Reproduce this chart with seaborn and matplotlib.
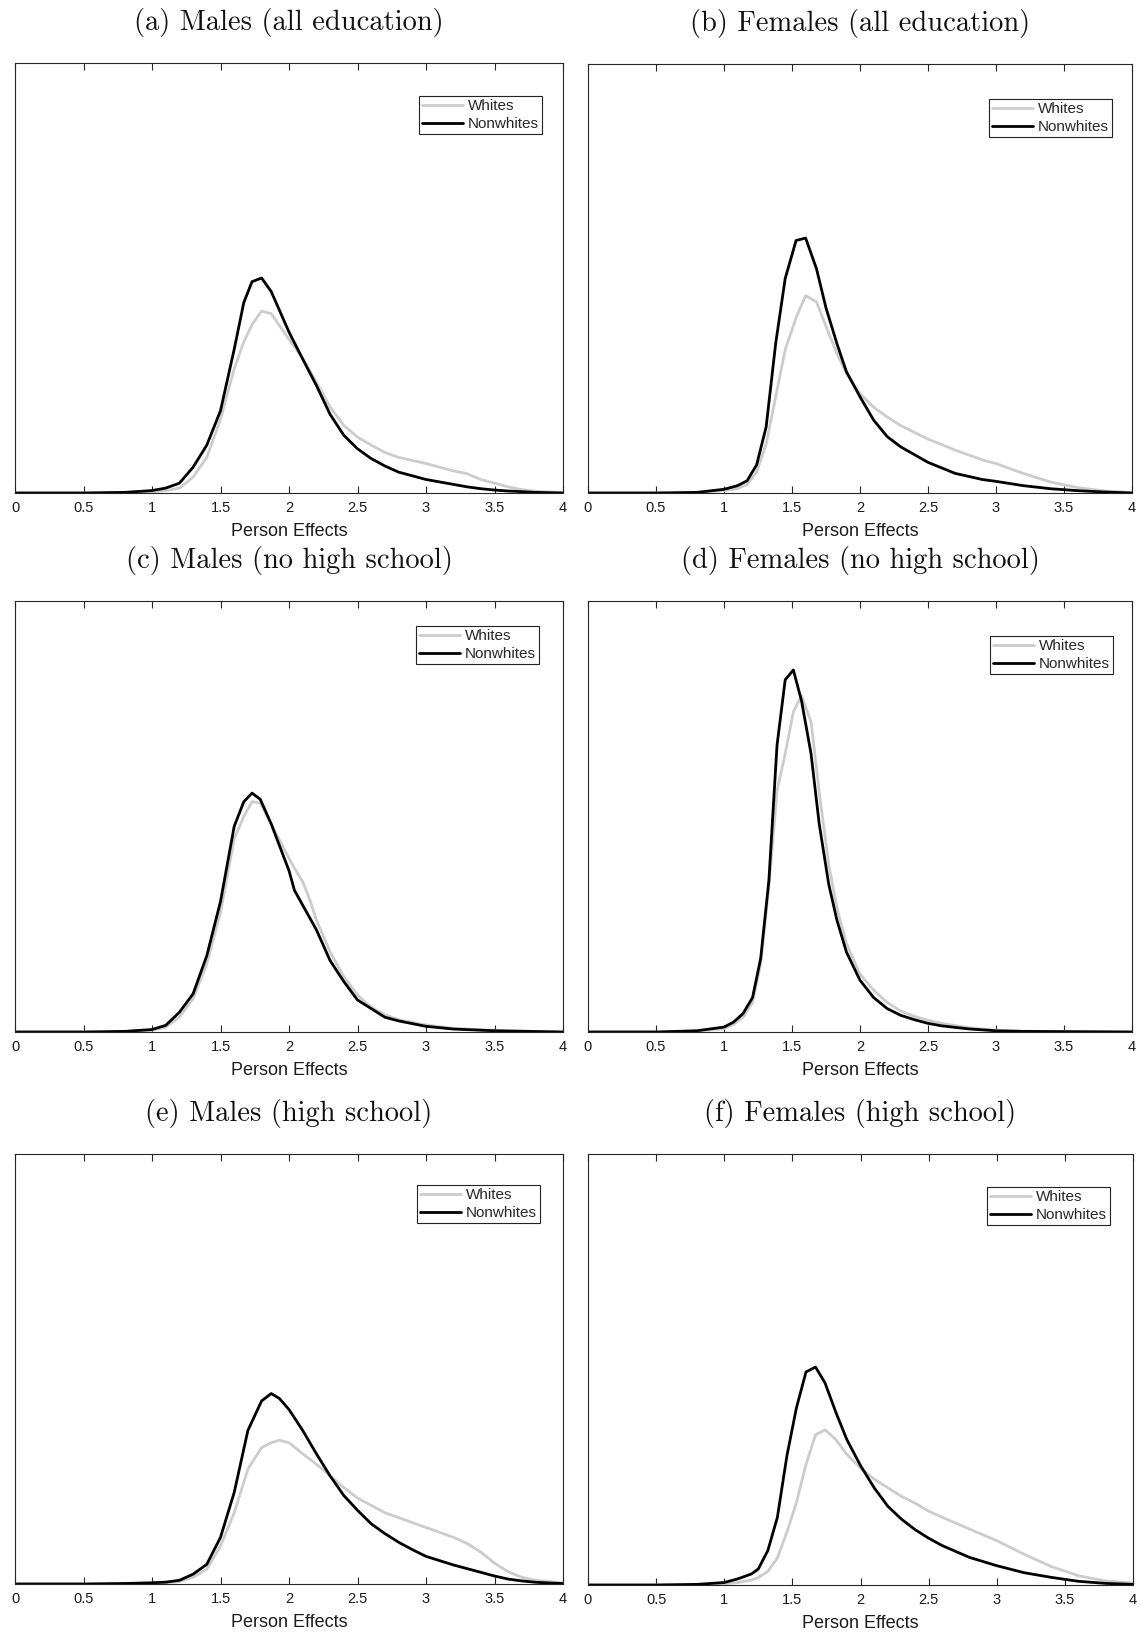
import numpy as np
import pandas as pd
import matplotlib
matplotlib.use("Agg")
import matplotlib.pyplot as plt
import seaborn as sns

# ---------------- data (density of person effects) ----------------
titles = ["(a) Males (all education)", "(b) Females (all education)",
          "(c) Males (no high school)", "(d) Females (no high school)",
          "(e) Males (high school)", "(f) Females (high school)"]
groups = ["Whites", "Nonwhites"]
tick_values = [0, 0.5, 1, 1.5, 2, 2.5, 3, 3.5, 4]
tick_labels = ["0", "0.5", "1", "1.5", "2", "2.5", "3", "3.5", "4"]
x_label = "Person Effects"

a_x = [0, 0.5, 0.8, 1.0, 1.1, 1.2, 1.3, 1.4, 1.5, 1.6, 1.67, 1.73, 1.8, 1.87, 2.0, 2.1,
       2.2, 2.3, 2.4, 2.5, 2.6, 2.7, 2.8, 3.0, 3.2, 3.3, 3.4, 3.5, 3.6, 3.7, 3.8, 4.0]
a_nonwhites = [0, 0, 0.005, 0.02, 0.04, 0.08, 0.21, 0.39, 0.67, 1.17, 1.55, 1.72, 1.75, 1.64,
               1.31, 1.09, 0.875, 0.64, 0.47, 0.36, 0.28, 0.22, 0.17, 0.11, 0.07, 0.05,
               0.035, 0.024, 0.016, 0.011, 0.005, 0.0]
a_whites = [0, 0, 0.003, 0.01, 0.02, 0.04, 0.13, 0.29, 0.60, 1.01, 1.23, 1.37, 1.48, 1.46,
            1.25, 1.10, 0.90, 0.70, 0.55, 0.455, 0.39, 0.33, 0.29, 0.24, 0.18, 0.157,
            0.11, 0.08, 0.05, 0.027, 0.014, 0.003]

b_x = [0, 0.5, 0.8, 1.0, 1.1, 1.17, 1.24, 1.31, 1.38, 1.45, 1.53, 1.60, 1.68, 1.75, 1.83,
       1.9, 2.0, 2.1, 2.2, 2.3, 2.5, 2.7, 2.9, 3.0, 3.2, 3.4, 3.6, 3.8, 4.0]
b_nonwhites = [0, 0, 0.005, 0.03, 0.06, 0.10, 0.23, 0.54, 1.22, 1.75, 2.06, 2.08, 1.83, 1.51,
               1.22, 0.99, 0.785, 0.595, 0.46, 0.376, 0.25, 0.16, 0.11, 0.095, 0.06, 0.035,
               0.019, 0.008, 0.0]
b_whites = [0, 0, 0.004, 0.02, 0.035, 0.07, 0.17, 0.40, 0.785, 1.17, 1.43, 1.61, 1.56, 1.36,
            1.14, 0.976, 0.81, 0.70, 0.62, 0.55, 0.44, 0.35, 0.27, 0.24, 0.16, 0.09, 0.044,
            0.016, 0.005]

c_x = [0, 0.5, 0.8, 1.0, 1.1, 1.2, 1.3, 1.4, 1.5, 1.6, 1.67, 1.73, 1.79, 1.87, 2.0, 2.04,
       2.1, 2.15, 2.2, 2.3, 2.4, 2.5, 2.6, 2.7, 2.8, 3.0, 3.2, 3.5, 4.0]
c_nonwhites = [0, 0, 0.005, 0.02, 0.054, 0.16, 0.31, 0.62, 1.06, 1.67, 1.87, 1.94, 1.89,
               1.69, 1.31, 1.15, 1.03, 0.93, 0.83, 0.58, 0.41, 0.26, 0.19, 0.12, 0.09,
               0.046, 0.024, 0.01, 0.0]
c_whites = [0, 0, 0.004, 0.015, 0.04, 0.12, 0.27, 0.555, 0.97, 1.57, 1.75, 1.87, 1.86, 1.69,
            1.41, 1.33, 1.22, 1.08, 0.91, 0.65, 0.45, 0.30, 0.20, 0.14, 0.10, 0.057, 0.03,
            0.012, 0.0]

d_x = [0, 0.5, 0.8, 1.0, 1.07, 1.14, 1.21, 1.27, 1.33, 1.39, 1.45, 1.51, 1.57, 1.64, 1.70,
       1.77, 1.83, 1.9, 2.0, 2.1, 2.2, 2.3, 2.4, 2.5, 2.6, 2.8, 3.0, 3.2, 4.0]
d_nonwhites = [0, 0, 0.01, 0.04, 0.08, 0.15, 0.28, 0.60, 1.23, 2.33, 2.86, 2.94, 2.69, 2.26,
               1.69, 1.20, 0.91, 0.65, 0.42, 0.28, 0.19, 0.135, 0.10, 0.07, 0.05, 0.025,
               0.01, 0.005, 0.0]
d_whites = [0, 0, 0.008, 0.027, 0.062, 0.12, 0.24, 0.555, 1.18, 1.96, 2.26, 2.60, 2.73, 2.52,
            1.95, 1.36, 1.01, 0.72, 0.47, 0.34, 0.24, 0.17, 0.127, 0.095, 0.07, 0.035,
            0.014, 0.006, 0.0]

e_x = [0, 0.5, 0.8, 1.0, 1.1, 1.2, 1.3, 1.4, 1.5, 1.6, 1.7, 1.8, 1.87, 1.93, 2.0, 2.1, 2.2,
       2.3, 2.4, 2.5, 2.6, 2.7, 2.8, 2.9, 3.0, 3.2, 3.3, 3.4, 3.5, 3.6, 3.7, 3.8, 4.0]
e_nonwhites = [0, 0, 0.004, 0.01, 0.015, 0.03, 0.08, 0.16, 0.38, 0.745, 1.25, 1.49, 1.55,
               1.51, 1.42, 1.25, 1.06, 0.88, 0.72, 0.60, 0.49, 0.41, 0.34, 0.28, 0.225,
               0.155, 0.125, 0.095, 0.065, 0.04, 0.025, 0.014, 0.003]
e_whites = [0, 0, 0.002, 0.005, 0.01, 0.02, 0.055, 0.12, 0.31, 0.58, 0.935, 1.11, 1.15, 1.17,
            1.15, 1.06, 0.975, 0.88, 0.785, 0.70, 0.64, 0.58, 0.54, 0.50, 0.46, 0.38, 0.33,
            0.26, 0.17, 0.10, 0.054, 0.03, 0.01]

f_x = [0, 0.5, 0.8, 1.0, 1.1, 1.2, 1.25, 1.32, 1.39, 1.46, 1.53, 1.60, 1.67, 1.74, 1.82, 1.9,
       2.0, 2.1, 2.2, 2.3, 2.4, 2.5, 2.6, 2.8, 3.0, 3.2, 3.4, 3.6, 3.8, 4.0]
f_nonwhites = [0, 0, 0.005, 0.02, 0.05, 0.09, 0.13, 0.28, 0.55, 1.05, 1.44, 1.73, 1.77, 1.64,
               1.40, 1.18, 0.97, 0.79, 0.64, 0.535, 0.45, 0.38, 0.32, 0.224, 0.157, 0.10,
               0.062, 0.03, 0.013, 0.005]
f_whites = [0, 0, 0.003, 0.01, 0.02, 0.04, 0.06, 0.11, 0.22, 0.43, 0.67, 0.98, 1.22, 1.26,
            1.18, 1.06, 0.95, 0.86, 0.79, 0.72, 0.665, 0.60, 0.55, 0.454, 0.36, 0.25, 0.15,
            0.075, 0.033, 0.016]

panel_x = [a_x, b_x, c_x, d_x, e_x, f_x]
panel_whites = [a_whites, b_whites, c_whites, d_whites, e_whites, f_whites]
panel_nonwhites = [a_nonwhites, b_nonwhites, c_nonwhites, d_nonwhites, e_nonwhites, f_nonwhites]

# ---------------- layout (pixels in a 1141 x 1634 figure) ----------------
W, H = 1141, 1634
# left, right, top, bottom in pixels
boxes = [(15, 563, 63, 493), (588, 1132, 64, 493),
         (15, 563, 601, 1032), (588, 1132, 601, 1032),
         (15, 563, 1154, 1584), (588, 1133, 1154, 1585)]
# legend gaps (right, top) in pixels
legend_gaps = [(21, 33), (20, 35), (24, 25), (19, 35), (23, 31), (23, 33)]

sns.set_theme(style="white")
plt.rcParams['font.family'] = ['Liberation Sans', 'DejaVu Sans']
axis_col = "#262626"

fig = plt.figure(figsize=(W / 100, H / 100), dpi=100)
palette = {"Whites": "#cccccc", "Nonwhites": "#000000"}

for i in range(6):
    l, r, t, b = boxes[i]
    w_px, h_px = r - l, b - t
    ax = fig.add_axes([l / W, 1 - b / H, w_px / W, h_px / H])
    df = pd.DataFrame({
        "x": list(panel_x[i]) * 2,
        "density": list(panel_whites[i]) + list(panel_nonwhites[i]),
        "group": [groups[0]] * len(panel_x[i]) + [groups[1]] * len(panel_x[i]),
    })
    sns.lineplot(data=df, x="x", y="density", hue="group", hue_order=groups,
                 palette=palette, estimator=None, linewidth=2.0, ax=ax)
    ax.set_xlim(0, 4)
    ax.set_ylim(0, 3.5)
    ax.set_yticks([])
    ax.set_ylabel("")
    ax.set_xticks(tick_values)
    ax.set_xticklabels(tick_labels)
    ax.tick_params(axis="x", direction="in", top=True, bottom=True, length=5,
                   width=0.8, labelsize=10.5, pad=6, colors=axis_col)
    ax.tick_params(axis="x", labelcolor="#1a1a1a")
    for s in ax.spines.values():
        s.set_color(axis_col)
        s.set_linewidth(0.8)
    ax.set_xlabel(x_label, fontsize=13, color="#1a1a1a")
    ax.xaxis.set_label_coords(0.5, -38.5 / h_px)
    ax.xaxis.label.set_va("center")
    gr, gt = legend_gaps[i]
    leg = ax.legend(loc="upper right",
                    bbox_to_anchor=(1 - gr / w_px, 1 - gt / h_px),
                    borderaxespad=0, frameon=True, fancybox=False, shadow=False,
                    framealpha=1, edgecolor="#222222", fontsize=11, handlelength=2.7,
                    handletextpad=0.3, borderpad=0.2, labelspacing=0.26)
    leg.get_frame().set_linewidth(0.8)
    ax.text(0.5, 1 + 40.5 / h_px, titles[i], transform=ax.transAxes,
            ha="center", va="center", fontsize=20.5, family="cmr10", color="#111111")

fig.savefig("out.png", dpi=100)
